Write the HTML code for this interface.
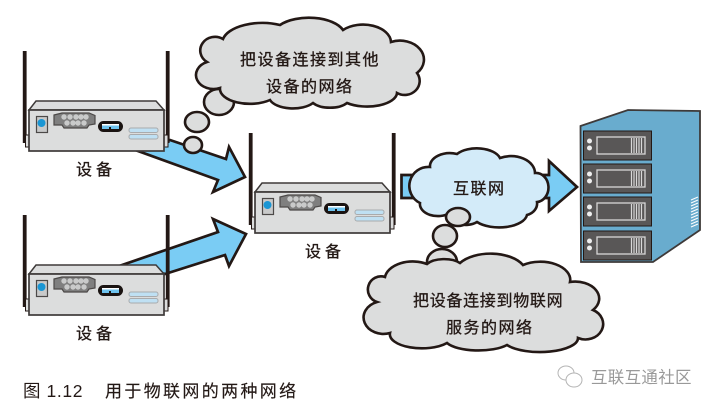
<!DOCTYPE html>
<html><head><meta charset="utf-8">
<style>
html,body{margin:0;padding:0;background:#fff;width:715px;height:409px;overflow:hidden}
svg{display:block}
text{font-family:"Liberation Sans","Noto Sans CJK SC",sans-serif}
.h{font-size:16px;fill:#231815;stroke:#231815;stroke-width:.3px;letter-spacing:1.5px;font-family:"WenQuanYi Zen Hei","Noto Sans CJK SC",sans-serif}
</style></head><body>
<svg width="715" height="409" viewBox="0 0 715 409" xmlns="http://www.w3.org/2000/svg">
<defs>
<g id="dev">
  <rect x="22.800" y="51" width="3.800" height="92" fill="#231815"/>
  <rect x="165.800" y="51" width="3.800" height="92" fill="#231815"/>
  <rect x="25.500" y="135" width="5" height="12" fill="#dcdddd" stroke="#231815" stroke-width="1"/>
  <rect x="163" y="135" width="5" height="12" fill="#dcdddd" stroke="#231815" stroke-width="1"/>
  <polygon points="29,110 36,101 156,101 164,110" fill="#dcdddd" stroke="#3e3a39" stroke-width="1.500"/>
  <rect x="29" y="110" width="135" height="41" fill="#dcdddd" stroke="#3e3a39" stroke-width="1.700"/>
  <rect x="36.500" y="116.500" width="11" height="16" fill="#c9caca" stroke="#4c4948" stroke-width="1.200"/>
  <circle cx="41.500" cy="123" r="4" fill="#1a96d4"/>
  <polygon points="54,115 62,113 89,113 95,115.500 95,124 89,125 87,128 64,128 62,125 54,125" fill="#7f7f7f" stroke="#4c4948" stroke-width="1.200"/>
  <g fill="#c9caca">
    <circle cx="64" cy="117" r="2.700"/><circle cx="70" cy="117" r="2.700"/><circle cx="76" cy="117" r="2.700"/><circle cx="81" cy="117" r="2.700"/><circle cx="86" cy="117" r="2.700"/>
    <circle cx="67" cy="123" r="2.700"/><circle cx="73" cy="123" r="2.700"/><circle cx="78" cy="123" r="2.700"/><circle cx="84" cy="123" r="2.700"/>
  </g>
  <rect x="98" y="121" width="25" height="11" rx="5.500" fill="#1a1311"/>
  <rect x="102" y="124" width="17" height="5" fill="#6fc3ee"/>
  <rect x="102" y="124" width="17" height="1.500" fill="#fff"/>
  <rect x="109" y="127" width="2" height="2" fill="#1a1311"/>
  <rect x="129" y="128" width="29" height="4.500" rx="2" fill="#bfe0f3" stroke="#a9abad" stroke-width="1"/>
  <rect x="129" y="134.500" width="29" height="4.500" rx="2" fill="#bfe0f3" stroke="#a9abad" stroke-width="1"/>
</g>
<g id="slot">
  <rect x="583.500" y="0" width="68" height="29" fill="#595757" stroke="#231815" stroke-width="1"/>
  <circle cx="589.500" cy="10" r="2.500" fill="#eee"/>
  <circle cx="589.500" cy="17" r="2.500" fill="#eee"/>
  <rect x="597" y="6" width="48" height="17" fill="none" stroke="#d8d8d8" stroke-width="1.300"/>
  <path d="M631.500,7V22M634,7V22M636.500,7V22M639,7V22M641.500,7V22" stroke="#d8d8d8" stroke-width="1.200"/>
</g>
</defs>

<!-- arrows -->
<polygon points="138,151 170,140 226,159 229,147 245,177 213,192 218,180" fill="#7accf4" stroke="#231815" stroke-width="2.700"/>
<polygon points="122,265 218,232 213,219 246,234 229,266 225,255 165,274" fill="#7accf4" stroke="#231815" stroke-width="2.700"/>
<polygon points="401.500,175 549,175 549,161 577,187 549,211 549,198 401.500,198" fill="#7accf4" stroke="#231815" stroke-width="2.700"/>

<use href="#dev"/>
<use href="#dev" y="164"/>
<use href="#dev" x="226" y="82"/>

<!-- top thought cloud -->
<g fill="#dcdddd" stroke="#231815" stroke-width="2.600">
<ellipse cx="219" cy="102" rx="15" ry="13"/>
<path d="M207,62 A14,13 0 0 1 223,39 A40,20 0 0 1 280,25 A36,18 0 0 1 343,30 A28,18 0 0 1 391,42 A24,19 0 0 1 417,73 A15,14 0 0 1 397,93 A30,14 0 0 1 347,103 A20,10 0 0 1 313,103 A24,12 0 0 1 270,100 A30,15 0 0 1 220,88 A15,12 0 0 1 207,62 Z"/>
<ellipse cx="197" cy="122" rx="12" ry="10"/>
<ellipse cx="193" cy="145" rx="9" ry="8"/>
</g>
<text class="h" x="240" y="65">把设备连接到其他</text>
<text class="h" x="266" y="92">设备的网络</text>

<!-- blue cloud -->
<path d="M430,167 A20,13 0 0 1 457,154 A24,13 0 0 1 500,158 A24,17 0 0 1 535,173 A12,14 0 0 1 537,202 A14,12 0 0 1 527,215 A28,14 0 0 1 477,222 A16,10 0 0 1 450,213 A18,12 0 0 1 420,203 A19,19 0 0 1 430,167 Z" fill="#d3ebf9" stroke="#231815" stroke-width="2.600"/>
<text class="h" x="453" y="194">互联网</text>

<!-- lower thought cloud -->
<g fill="#dcdddd" stroke="#231815" stroke-width="2.600">
<ellipse cx="442" cy="262" rx="15" ry="13"/>
<path d="M377,302 A13,13 0 0 1 385,277 A28,18 0 0 1 427,264 A20,10 0 0 1 460,263 A36,20 0 0 1 523,265 A30,18 0 0 1 570,282 A24,17 0 0 1 593,310 A16,14 0 0 1 578,338 A38,14 0 0 1 507,345 A34,12 0 0 1 447,343 A32,14 0 0 1 390,333 A17,14 0 0 1 377,302 Z"/>
<ellipse cx="445" cy="236" rx="12" ry="11"/>
<ellipse cx="458" cy="217" rx="12" ry="9"/>
</g>
<text class="h" x="413" y="306" style="letter-spacing:.7px">把设备连接到物联网</text>
<text class="h" x="446" y="333">服务的网络</text>

<text class="h" x="76" y="175" style="letter-spacing:4px">设备</text>
<text class="h" x="76" y="339" style="letter-spacing:4px">设备</text>
<text class="h" x="305" y="257" style="letter-spacing:4px">设备</text>

<!-- server -->
<polygon points="580.500,126 628,110 700,111 700,230 653,262 581,262" fill="#69acce" stroke="#3e3a39" stroke-width="1.800"/>
<use href="#slot" y="131"/>
<use href="#slot" y="164"/>
<use href="#slot" y="197"/>
<use href="#slot" y="231"/>
<path d="M691,200L698,197M691,203L698,200M691,206L698,203M691,209L698,206M691,212L698,209M691,215L698,212M691,218L698,215M691,221L698,218M691,224L698,221M691,227L698,224" stroke="#fff" stroke-width="1"/>

<!-- caption -->
<text x="23" y="397" font-size="17.500" fill="#231815" letter-spacing=".6">图 1.12</text>
<text x="105" y="397" font-size="17" fill="#231815" stroke="#231815" stroke-width=".15" letter-spacing="2.350">用于物联网的两种网络</text>

<!-- watermark -->
<g fill="#fff" stroke="#b5b5b5" stroke-width="1">
<ellipse cx="566" cy="373" rx="8" ry="7"/>
<ellipse cx="574" cy="380" rx="8" ry="7"/>
</g>
<text x="591" y="383" font-size="16.500" fill="#999" letter-spacing=".3">互联互通社区</text>
</svg>
</body></html>
